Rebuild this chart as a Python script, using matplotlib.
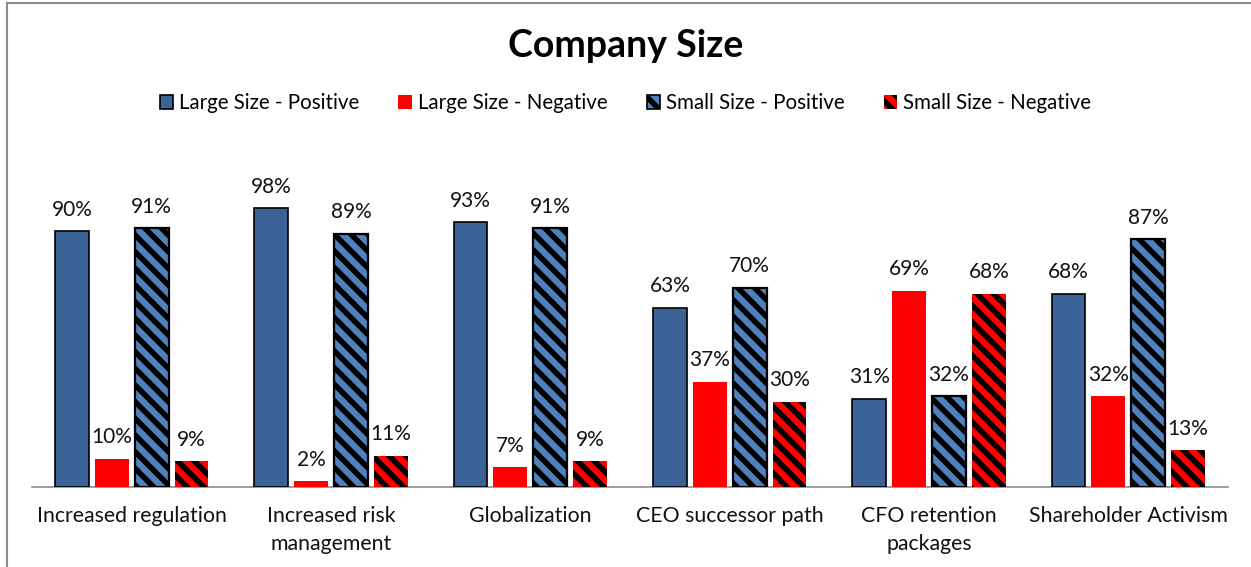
import matplotlib
matplotlib.use('Agg')

import matplotlib.pyplot as plt
import numpy as np
from matplotlib.patches import Rectangle
from matplotlib.lines import Line2D

plt.rcParams['font.family'] = ['Lato', 'DejaVu Sans']
plt.rcParams['hatch.linewidth'] = 4.0

categories = ["Increased regulation", "Increased risk\nmanagement", "Globalization",
              "CEO successor path", "CFO retention\npackages", "Shareholder Activism"]
large_pos = [90, 98, 93, 63, 31, 68]
large_neg = [10, 2, 7, 37, 69, 32]
small_pos = [91, 89, 91, 70, 32, 87]
small_neg = [9, 11, 9, 30, 68, 13]
series_names = ["Large Size - Positive", "Large Size - Negative",
                "Small Size - Positive", "Small Size - Negative"]

DARK_BLUE = "#3B6398"
LIGHT_BLUE = "#4F81BD"
RED = "#FF0000"
TEXT = "#111111"
HATCH = "\\\\"

fig = plt.figure(figsize=(12.51, 5.67), dpi=100)
ax = fig.add_axes([32 / 1251, 80 / 567, 1196 / 1251, 313 / 567])

x = np.arange(len(categories))
w = 0.17
specs = [
    (large_pos, -0.3, dict(color=DARK_BLUE, edgecolor="black", linewidth=1.2)),
    (large_neg, -0.1, dict(color=RED, edgecolor=RED, linewidth=0)),
    (small_pos, 0.1, dict(color=LIGHT_BLUE, edgecolor="black", linewidth=1.6, hatch=HATCH)),
    (small_neg, 0.3, dict(color=RED, edgecolor="black", linewidth=0, hatch=HATCH)),
]
for vals, off, style in specs:
    v = np.array(vals) / 100.0
    ax.bar(x + off, v, width=w, zorder=3, **style)
    for xi, vi, lab in zip(x + off, v, vals):
        ax.text(xi, vi + 0.04, f"{lab}%", ha="center", va="bottom",
                fontsize=15, color=TEXT)

ax.set_xlim(-0.5, len(categories) - 0.5)
ax.set_ylim(0, 1.1)
ax.set_yticks([])
for s in ["top", "right", "left"]:
    ax.spines[s].set_visible(False)
ax.spines["bottom"].set_color("#8C8C8C")
ax.spines["bottom"].set_linewidth(1.2)
ax.set_xticks(x)
ax.set_xticklabels(categories, fontsize=15.3, color=TEXT, linespacing=1.5)
ax.tick_params(axis="x", length=0, pad=14)

fig.text(0.5, 1 - 46 / 567, "Company Size", ha="center", va="center",
         fontsize=27, fontweight="bold", color="black")

handles = [
    Rectangle((0, 0), 1, 1, facecolor=DARK_BLUE, edgecolor="black", linewidth=1.2),
    Rectangle((0, 0), 1, 1, facecolor=RED, edgecolor=RED, linewidth=0),
    Rectangle((0, 0), 1, 1, facecolor=LIGHT_BLUE, edgecolor="black", linewidth=1.2, hatch=HATCH),
    Rectangle((0, 0), 1, 1, facecolor=RED, edgecolor="black", linewidth=0, hatch=HATCH),
]
fig.legend(handles, series_names, loc="center", bbox_to_anchor=(0.5, 1 - 103 / 567),
           ncol=4, frameon=False, fontsize=14.8, handlelength=0.65, handleheight=0.65,
           handletextpad=0.3, columnspacing=1.9)

# outer chart border (only top/left visible in crop)
fig.add_artist(Line2D([7 / 1251, 7 / 1251], [0, 1 - 3 / 567], transform=fig.transFigure,
                      color="#8C8C8C", linewidth=1.5))
fig.add_artist(Line2D([7 / 1251, 1], [1 - 3 / 567, 1 - 3 / 567], transform=fig.transFigure,
                      color="#8C8C8C", linewidth=1.5))

fig.savefig("out.png", dpi=100, facecolor="white")
